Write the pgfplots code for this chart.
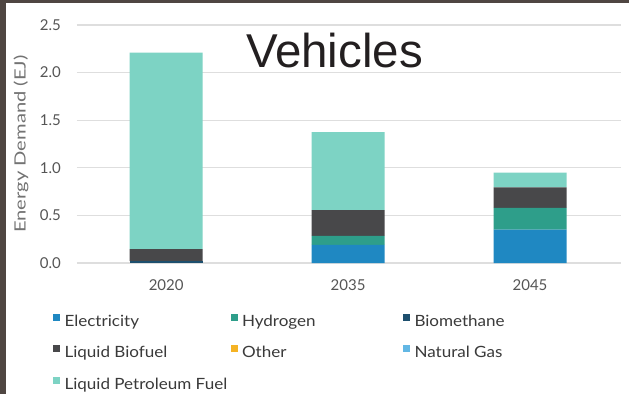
\documentclass[border=0pt]{standalone}
\usepackage{pgfplots}
\pgfplotsset{compat=1.18}
\usepackage{fontspec}
\setmainfont{Lato}
\newfontfamily\titlefont{Liberation Sans}
\newfontfamily\ylabfont[FakeStretch=1.3]{Lato}
\newfontfamily\legfont[FakeStretch=1.1]{Lato}
\definecolor{bordercol}{HTML}{4F4642}
\definecolor{cElec}{HTML}{1F88C2}
\definecolor{cH2}{HTML}{2E9E8A}
\definecolor{cBio}{HTML}{1D4F6E}
\definecolor{cLB}{HTML}{48484A}
\definecolor{cOther}{HTML}{F5B324}
\definecolor{cNG}{HTML}{62B7E4}
\definecolor{cLPF}{HTML}{7DD3C4}
\definecolor{gridcol}{HTML}{DEDEDE}
\definecolor{ticktxt}{HTML}{555555}
\definecolor{ylabtxt}{HTML}{737373}
\definecolor{legtxt}{HTML}{3A3A3A}
\definecolor{titletxt}{HTML}{231F20}
\begin{document}
\begin{tikzpicture}
\fill[bordercol] (0,0) rectangle (629pt,394pt);
\fill[white] (5.5pt,0) rectangle (629pt,391pt);
\begin{axis}[
  at={(77pt,131pt)}, anchor=south west,
  scale only axis, width=544pt, height=238pt,
  ybar stacked, bar width=73pt,
  xmin=-0.49, xmax=2.5, ymin=0, ymax=2.5,
  xtick={0,1,2}, xticklabels={2020,2035,2045},
  ytick={0,0.5,1,1.5,2,2.5},
  /pgf/number format/fixed,
  /pgf/number format/fixed zerofill,
  /pgf/number format/precision=1,
  /pgf/number format/assume math mode=true,
  axis line style={draw=none},
  major tick length=0pt,
  ymajorgrids, grid style={gridcol, line width=1.2pt},
  tick label style={font=\fontsize{15}{18}\selectfont, text=ticktxt, inner sep=0pt},
  yticklabel style={anchor=east, xshift=-16pt},
  xticklabel style={anchor=base, yshift=-27pt},
  ylabel={Energy Demand (EJ)},
  every axis y label/.style={at={(axis description cs:-0.1029,0.5)}, rotate=90, anchor=center, font=\ylabfont\fontsize{15.5}{18}\selectfont, text=ylabtxt, inner sep=0pt},
  title={Vehicles},
  title style={at={(axis description cs:0.4733,0.798)}, anchor=base, yshift=0pt, font=\titlefont\fontsize{47.5}{50}\selectfont, text=titletxt, inner sep=0pt},
  legend columns=3,
  legend cell align=left,
  legend style={at={(axis description cs:-0.0441,-0.2122)}, anchor=north west, draw=none, fill=none, inner sep=0pt, outer sep=0pt, row sep=16pt, font=\legfont\fontsize{15.5}{18}\selectfont, text=legtxt, nodes={inner sep=0pt, text height=11pt, text depth=3pt}},
  every axis plot/.append style={legend image code/.code={\fill[#1] (0pt,1.5pt) rectangle (7pt,8.5pt); \path (11.5pt,0pt);}},
]
\addplot[fill=cElec, draw=none] coordinates {(0,0) (1,0.19) (2,0.35)};
\addplot[fill=cH2, draw=none] coordinates {(0,0) (1,0.095) (2,0.23)};
\addplot[fill=cBio, draw=none] coordinates {(0,0.02) (1,0) (2,0)};
\addplot[fill=cLB, draw=none] coordinates {(0,0.125) (1,0.27) (2,0.215)};
\addplot[fill=cOther, draw=none] coordinates {(0,0) (1,0) (2,0)};
\addplot[fill=cNG, draw=none] coordinates {(0,0) (1,0) (2,0)};
\addplot[fill=cLPF, draw=none] coordinates {(0,2.065) (1,0.82) (2,0.155)};
\legend{\makebox[166pt][l]{Electricity}, \makebox[161pt][l]{Hydrogen}, Biomethane, Liquid Biofuel, Other, Natural Gas, Liquid Petroleum Fuel}
\end{axis}
\pgfresetboundingbox
\useasboundingbox (0,0) rectangle (629pt,394pt);
\end{tikzpicture}
\end{document}
